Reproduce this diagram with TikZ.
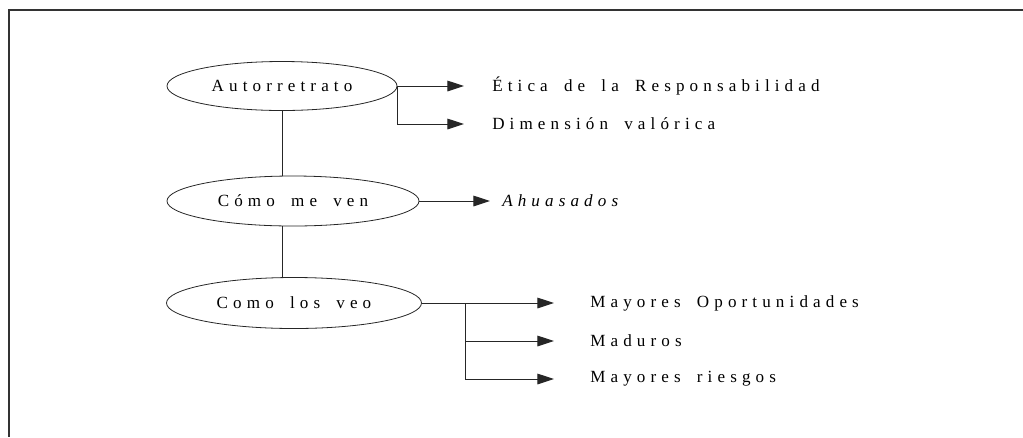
\documentclass[tikz,border=0pt]{standalone}
\usepackage{fontspec}
\setmainfont{Liberation Serif}
\usetikzlibrary{shapes.geometric,arrows.meta}
\newcommand{\letrafuente}{\fontsize{12.8}{14}\selectfont\addfontfeature{LetterSpace=30}}
\newcommand{\esp}{\hspace{0.4em}}

\begin{document}
\begin{tikzpicture}[x=0.75pt,y=-0.75pt,
  letra/.style={font=\letrafuente},
  elipse/.style={draw=black!85,ellipse,inner sep=0pt,line width=0.6pt,letra},
  texto/.style={anchor=west,inner sep=0pt,letra},
  flecha/.style={-{Triangle[length=12.5pt,width=8pt]},draw=black!85,line width=0.7pt}]

\useasboundingbox (0,0) rectangle (1023,437);
\draw[line width=0.9pt,draw=black!80] (1023,10) -- (9,10) -- (9,437);

% ovalos
\node[elipse,minimum width=172.5pt,minimum height=36.75pt] (auto) at (282,86) {Autorretrato};
\node[elipse,minimum width=189pt,minimum height=37.5pt] (ven) at (293,201) {Cómo \esp me \esp ven\hspace{4pt}};
\node[elipse,minimum width=191.25pt,minimum height=38.25pt] (veo) at (294,303) {Como \esp los \esp veo\hspace{14pt}};

\draw[black!85,line width=0.6pt] (auto.south) -- (auto.south |- ven.north);
\draw[black!85,line width=0.6pt] (auto.south |- ven.south) -- (auto.south |- veo.north);

% textos
\node[texto] (etica) at (492,86) {Ética \esp de \esp la \esp Responsabilidad};
\node[texto] (dim) at (492,124) {Dimensión \esp valórica};
\node[texto] (ahu) at (502,201) {\itshape Ahuasados};
\node[texto] (may) at (590,303) {Mayores \esp Oportunidades};
\node[texto] (mad) at (590,341) {Maduros};
\node[texto] (rie) at (590,379) {Mayores \esp riesgos};
\coordinate (rama) at (465,303);

\draw[flecha,shorten >=21pt] (auto.east) -- (etica.west);
\draw[flecha,shorten >=21pt] (auto.east) |- (dim.west);
\draw[flecha,shorten >=9pt] (ven.east) -- (ahu.west);
\draw[flecha,shorten >=27pt] (veo.east) -- (may.west);
\draw[flecha,shorten >=27pt] (rama) |- (mad.west);
\draw[flecha,shorten >=27pt] (rama) |- (rie.west);

\end{tikzpicture}
\end{document}
